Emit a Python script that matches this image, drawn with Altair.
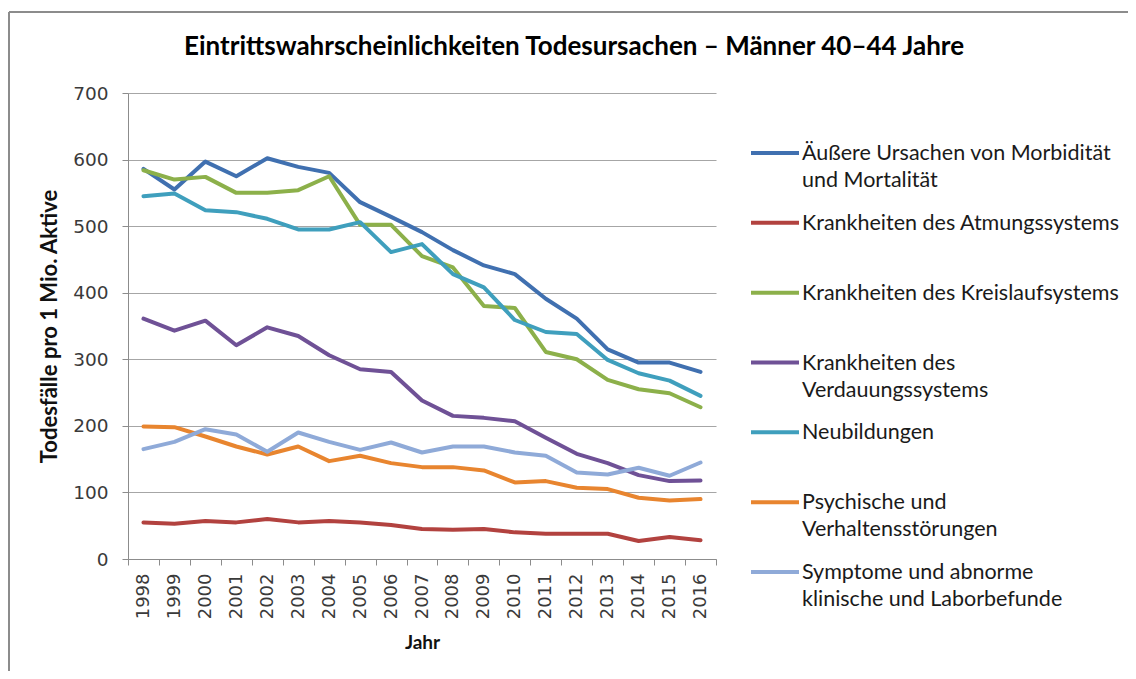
import altair as alt
import pandas as pd

years = list(range(1998, 2017))

series_names = [
    "Äußere Ursachen von Morbidität und Mortalität",
    "Krankheiten des Atmungssystems",
    "Krankheiten des Kreislaufsystems",
    "Krankheiten des Verdauungssystems",
    "Neubildungen",
    "Psychische und Verhaltensstörungen",
    "Symptome und abnorme klinische und Laborbefunde",
]
legend_labels = [
    "Äußere Ursachen von Morbidität\nund Mortalität",
    "Krankheiten des Atmungssystems",
    "Krankheiten des Kreislaufsystems",
    "Krankheiten des\nVerdauungssystems",
    "Neubildungen",
    "Psychische und\nVerhaltensstörungen",
    "Symptome und abnorme\nklinische und Laborbefunde",
]
series_colors = ["#4070B0", "#B2423F", "#8CB04A", "#6F5196", "#3F9FBD", "#E8852F", "#8FAAD8"]

aeussere = [586, 555, 597, 575, 602, 589, 580, 536, 514, 491, 464, 441, 428, 391, 361, 315, 295, 295, 281]
atmung = [55, 53, 57, 55, 60, 55, 57, 55, 51, 45, 44, 45, 40, 38, 38, 38, 27, 33, 28]
kreislauf = [584, 570, 574, 550, 550, 554, 575, 502, 502, 455, 438, 380, 377, 311, 300, 269, 255, 249, 228]
verdauung = [361, 343, 358, 321, 348, 335, 306, 285, 281, 238, 215, 212, 207, 182, 158, 144, 126, 117, 118]
neubildungen = [545, 549, 524, 521, 511, 495, 495, 506, 461, 473, 428, 408, 359, 341, 338, 299, 279, 268, 245]
psychische = [199, 198, 184, 169, 157, 169, 147, 155, 144, 138, 138, 133, 115, 117, 107, 105, 92, 88, 90]
symptome = [165, 176, 195, 187, 161, 190, 176, 164, 175, 160, 169, 169, 160, 155, 130, 127, 137, 125, 145]

all_values = [aeussere, atmung, kreislauf, verdauung, neubildungen, psychische, symptome]

rows = []
for name, vals in zip(series_names, all_values):
    for yr, v in zip(years, vals):
        rows.append({"Jahr": str(yr), "Wert": v, "Serie": name})
df = pd.DataFrame(rows)

legend_df = pd.DataFrame({"Serie": series_names, "Label": legend_labels})
frame_df = pd.DataFrame({"f": [0]})

color_scale = alt.Scale(domain=series_names, range=series_colors)

W, H = 588, 466

lines = alt.Chart(df).mark_line(strokeWidth=4, strokeJoin="round", strokeCap="round").encode(
    x=alt.X(
        "Jahr:O",
        bandPosition=0.5,
        scale=alt.Scale(type="band", paddingInner=0, paddingOuter=0),
        axis=alt.Axis(
            title="Jahr",
            labelAngle=270,
            tickBand="extent",
            labelFont="DejaVu Sans",
            labelFontSize=18,
            labelColor="#3a3a3a",
            labelPadding=8,
            tickSize=6,
            tickColor="#8c8c8c",
            domainColor="#8c8c8c",
            grid=False,
            titleFont="Lato",
            titleFontSize=19,
            titleFontWeight="bold",
            titleColor="#111111",
            titlePadding=15,
        ),
    ),
    y=alt.Y(
        "Wert:Q",
        scale=alt.Scale(domain=[0, 700], nice=False),
        axis=alt.Axis(
            title="Todesfälle pro 1 Mio. Aktive",
            values=[0, 100, 200, 300, 400, 500, 600, 700],
            labelFont="DejaVu Sans",
            labelFontSize=18.5,
            labelColor="#3a3a3a",
            labelPadding=14,
            tickSize=6,
            tickColor="#8c8c8c",
            domainColor="#8c8c8c",
            gridColor="#a6a6a6",
            gridWidth=1.2,
            titleFont="Lato",
            titleFontSize=22,
            titleFontWeight="bold",
            titleColor="#111111",
            titlePadding=11,
        ),
    ),
    color=alt.Color("Serie:N", scale=color_scale, legend=None),
    order=alt.Order("Jahr:O"),
    detail="Serie:N",
)

leg_y = alt.Y(
    "Serie:N",
    sort=series_names,
    scale=alt.Scale(type="point", domain=series_names, range=[60, 479], padding=0),
    axis=None,
)

legend_rules = alt.Chart(legend_df).mark_rule(strokeWidth=4).encode(
    x=alt.value(623),
    x2=alt.value(671),
    y=leg_y,
    color=alt.Color("Serie:N", scale=color_scale, legend=None),
)

legend_text = alt.Chart(legend_df).mark_text(
    align="left",
    baseline="alphabetic",
    dy=7,
    lineBreak="\n",
    lineHeight=27,
    font="Lato",
    fontSize=21.5,
    color="#1a1a1a",
).encode(
    x=alt.value(674),
    y=leg_y,
    text="Label:N",
)

frame_left = alt.Chart(frame_df).mark_rule(color="#8c8c8c", strokeWidth=2).encode(
    x=alt.value(-119), y=alt.value(-81), y2=alt.value(600)
)
frame_top = alt.Chart(frame_df).mark_rule(color="#8c8c8c", strokeWidth=2).encode(
    x=alt.value(-119), x2=alt.value(1100), y=alt.value(-81)
)

chart = (
    alt.layer(lines, legend_rules, legend_text, frame_left, frame_top)
    .resolve_scale(y="independent")
    .properties(
        width=W,
        height=H,
        padding={"left": 120, "top": 85, "right": 412, "bottom": 112},
        autosize=alt.AutoSizeParams(type="none"),
        title=alt.TitleParams(
            "Eintrittswahrscheinlichkeiten Todesursachen – Männer 40–44 Jahre",
            font="Lato",
            fontSize=26,
            fontWeight="bold",
            color="#000000",
            anchor="middle",
            baseline="alphabetic",
            dx=152,
            offset=-70,
        ),
    )
    .configure_view(stroke=None)
)

chart.save("out.html", embed_options={"renderer": "svg", "actions": False})
